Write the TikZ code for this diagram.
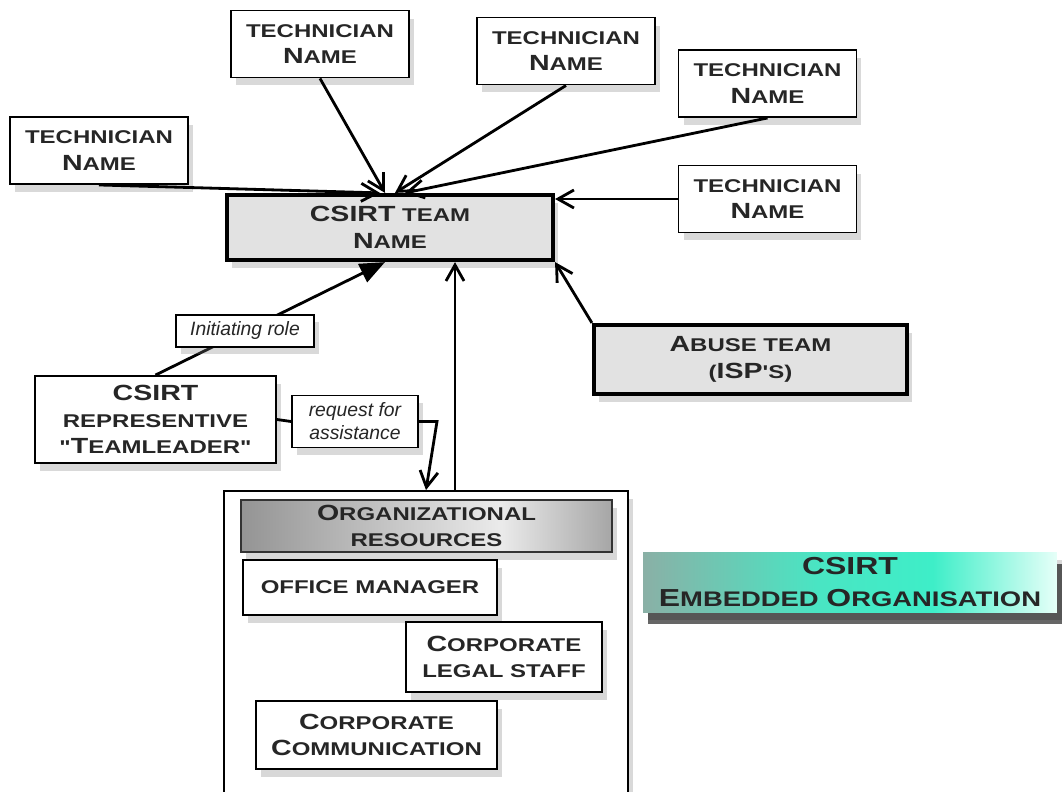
\documentclass[tikz,border=0pt]{standalone}
\usepackage{fontspec}
\setmainfont{Liberation Sans}
\newfontfamily\cpfont[FakeStretch=1.3]{Liberation Sans}
\usepackage{xcolor}
\usepackage{tikz}
\usetikzlibrary{arrows.meta, positioning, shadows, calc}
\definecolor{boxgray}{HTML}{E2E2E2}
\definecolor{inktext}{HTML}{262626}
\definecolor{tealdark}{HTML}{8AB0A6}
\definecolor{tealmid}{HTML}{3EEEC8}
\definecolor{teallight}{HTML}{E6FFF8}
\pgfdeclarehorizontalshading{embshade}{100bp}{color(0bp)=(tealdark); color(25bp)=(tealdark);
    color(46bp)=(tealmid!85!tealdark); color(60bp)=(tealmid); color(75bp)=(teallight);
    color(100bp)=(teallight)}
\pgfdeclarehorizontalshading{headshade}{100bp}{color(0bp)=(black!42); color(25bp)=(black!42);
    color(60bp)=(black!8); color(75bp)=(black!35); color(100bp)=(black!35)}
\newcommand{\bigcp}[1]{{\fontsize{12.5}{12}\selectfont #1}}

\begin{document}
\begin{tikzpicture}[
    x=0.02cm, y=-0.02cm,
    tech/.style={rectangle, draw=black, line width=1.1pt, fill=white, inner sep=0pt,
                 minimum width=3.56cm, minimum height=1.34cm, align=center, text=inktext,
                 font=\cpfont\bfseries\fontsize{10.5}{15}\selectfont,
                 drop shadow={shadow xshift=1mm, shadow yshift=-1.6mm, opacity=.3}},
    grayteam/.style={tech, fill=boxgray, line width=2.4pt},
    note/.style={rectangle, draw=black, line width=1pt, fill=white, inner sep=0pt,
                 align=center, text=inktext, font=\itshape\fontsize{11}{13}\selectfont,
                 drop shadow={shadow xshift=1mm, shadow yshift=-1.4mm, opacity=.3}},
    conn/.style={line width=1.6pt, -{Straight Barb[length=3.2mm,width=3.6mm]}}
]
\useasboundingbox (0,0) rectangle (1063,792);
\node[tech] (tecA) at (99,150.5) {TECHNICIAN\\\bigcp{N}AME};
\node[tech] (tecB) at (320,44) {TECHNICIAN\\\bigcp{N}AME};
\node[tech] (tecC) at (566,51) {TECHNICIAN\\\bigcp{N}AME};
\node[tech] (tecD) at (767.5,83.5) {TECHNICIAN\\\bigcp{N}AME};
\node[tech] (tecE) at (767.5,199) {TECHNICIAN\\\bigcp{N}AME};
\node[grayteam, minimum width=6.52cm, minimum height=1.3cm] (team) at (390,227.5)
    {\bigcp{CSIRT} TEAM\\\bigcp{N}AME};
\node[grayteam, minimum width=6.26cm, minimum height=1.38cm] (abuse) at (750.5,359.5)
    {\bigcp{A}BUSE TEAM\\(\bigcp{ISP}'S)};
\node[tech, minimum width=4.82cm, minimum height=1.74cm] (rep) at (155.5,419.5)
    {\bigcp{CSIRT}\\REPRESENTIVE\\"\bigcp{T}EAMLEADER"};
\node[note, minimum width=2.52cm, minimum height=1.04cm] (reqlbl) at (355,421.5)
    {request for\\assistance};
\node[tech, minimum width=8.08cm, minimum height=6.1cm] (org) at (426,643.5) {};
\node[tech, draw=black!80, shading=headshade, minimum width=7.42cm, minimum height=1.04cm,
      drop shadow={opacity=0}] (orghead) at (426.5,526)
    {\bigcp{O}RGANIZATIONAL\\RESOURCES};
\node[tech, drop shadow={opacity=0}, minimum width=5.08cm, minimum height=1.1cm]
    (officemgr) at (370,587.5) {OFFICE MANAGER};
\node[tech, drop shadow={opacity=0}, minimum width=3.92cm, minimum height=1.4cm]
    (legal) at (504,657) {\bigcp{C}ORPORATE\\LEGAL STAFF};
\node[tech, drop shadow={opacity=0}, minimum width=4.82cm, minimum height=1.36cm]
    (comm) at (376.5,735) {\bigcp{C}ORPORATE\\\bigcp{C}OMMUNICATION};
\node[tech, draw=none, shading=embshade, minimum width=8.28cm, minimum height=1.2cm,
      font=\cpfont\bfseries\fontsize{12}{18}\selectfont,
      drop shadow={shadow xshift=1mm, shadow yshift=-2.4mm, fill=black, opacity=.6}]
    (embedded) at (850,582)
    {{\fontsize{14}{14}\selectfont CSIRT}\\{\fontsize{14}{14}\selectfont E}MBEDDED {\fontsize{14}{14}\selectfont O}RGANISATION};
\draw[conn] (tecA.south) -- ([xshift=-2mm]team.north);
\draw[conn] (tecB.south) -- ([xshift=-1mm]team.north);
\draw[conn] (tecC.south) -- ([xshift=1mm]team.north);
\draw[conn] (tecD.south) -- ([xshift=3mm]team.north);
\draw[conn] (tecE.west) -- (tecE.west -| team.east);
\draw[line width=1.6pt, -{Triangle[length=5mm,width=4mm]}] (rep.north) --
    node[note, pos=0.39, minimum width=2.76cm, minimum height=0.64cm] (initlbl)
    {Initiating role} ([xshift=-1mm]team.south);
\draw[line width=1.6pt] (rep.east) -- (reqlbl.west);
\coordinate (bend) at (437,421.5);
\draw[conn] (reqlbl.east) -- (bend) -- (org.north);
\coordinate (orgup) at ($(org.north)+(29,0)$);
\draw[conn] (orgup) -- (orgup |- team.south);
\draw[conn] (abuse.north west) -- (team.south east);
\end{tikzpicture}
\end{document}
